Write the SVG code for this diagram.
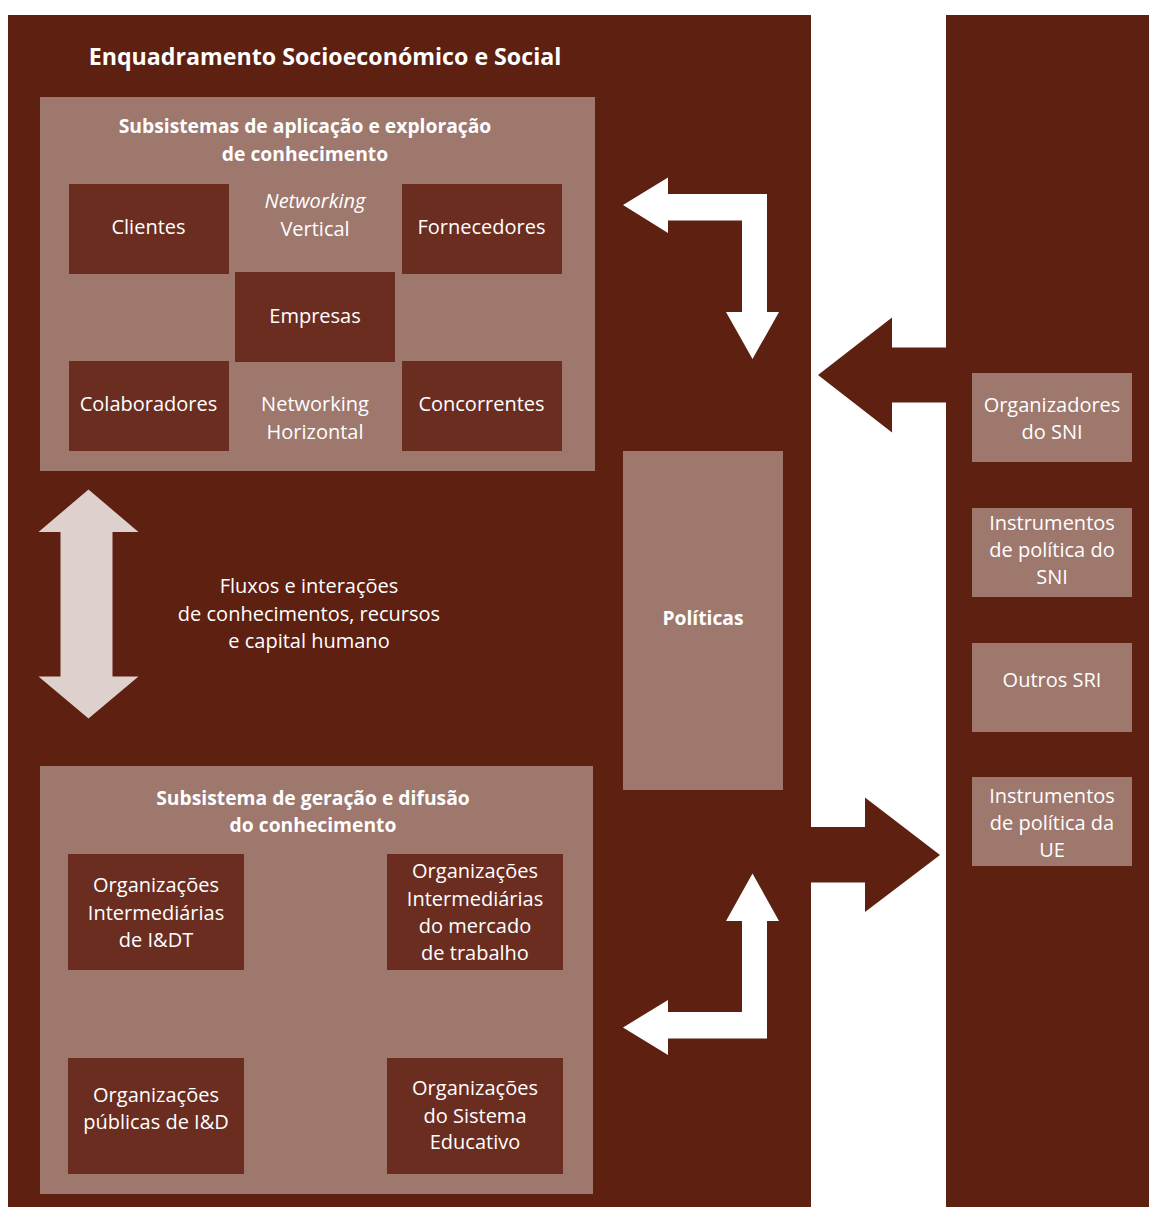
<svg xmlns="http://www.w3.org/2000/svg" width="1149" height="1207" viewBox="0 0 1149 1207">
<style>
.bg{fill:#5E2011}
.pale{fill:#9E776D}
.box{fill:#6B2D20}
.t{font-family:"Open Sans","Noto Sans",sans-serif;font-size:20px;fill:#FFFFFF;text-anchor:middle}
.b{font-weight:bold;font-size:19.3px}
.i{font-style:italic}
.wa{fill:#FFFFFF}
.da{fill:#5E2011}
.la{fill:#DDD0CD}
</style>
<rect width="1149" height="1207" fill="#FFFFFF"/>
<g id="panel-main">
<rect class="bg" x="8" y="15" width="803" height="1192"/>
<text class="t b" x="325" y="65" style="font-size:23.2px">Enquadramento Socioeconómico e Social</text>
</g>
<g id="panel-right">
<rect class="bg" x="946" y="15" width="203" height="1192"/>
</g>
<g id="subsistema-aplicacao">
<rect class="pale" x="40" y="97" width="555" height="374"/>
<text class="t b" x="305" y="133">Subsistemas de aplicação e exploração</text>
<text class="t b" x="305" y="161">de conhecimento</text>
</g>
<g id="clientes"><rect class="box" x="69" y="184" width="160" height="90"/><text class="t" x="148.5" y="234">Clientes</text></g>
<g id="fornecedores"><rect class="box" x="402" y="184" width="160" height="90"/><text class="t" x="481.5" y="234">Fornecedores</text></g>
<g id="networking-vertical"><text class="t i" x="315" y="208">Networking</text><text class="t" x="315" y="236">Vertical</text></g>
<g id="empresas"><rect class="box" x="235" y="272" width="160" height="90"/><text class="t" x="315" y="323">Empresas</text></g>
<g id="colaboradores"><rect class="box" x="69" y="361" width="160" height="90"/><text class="t" x="148.5" y="411">Colaboradores</text></g>
<g id="networking-horizontal"><text class="t" x="315" y="411">Networking</text><text class="t" x="315" y="439">Horizontal</text></g>
<g id="concorrentes"><rect class="box" x="402" y="361" width="160" height="90"/><text class="t" x="481.5" y="411">Concorrentes</text></g>
<g id="fluxos">
<text class="t" x="309" y="593">Fluxos e interações</text>
<text class="t" x="309" y="621">de conhecimentos, recursos</text>
<text class="t" x="309" y="648">e capital humano</text>
</g>
<g id="politicas"><rect class="pale" x="623" y="451" width="160" height="339"/><text class="t b" x="703" y="625">Políticas</text></g>
<g id="subsistema-geracao">
<rect class="pale" x="40" y="766" width="553" height="428"/>
<text class="t b" x="313" y="805">Subsistema de geração e difusão</text>
<text class="t b" x="313" y="832">do conhecimento</text>
</g>
<g id="org-intermediarias-idt"><rect class="box" x="68" y="854" width="176" height="116"/><text class="t" x="156" y="892">Organizações</text><text class="t" x="156" y="920">Intermediárias</text><text class="t" x="156" y="947">de I&amp;DT</text></g>
<g id="org-intermediarias-trabalho"><rect class="box" x="387" y="854" width="176" height="116"/><text class="t" x="475" y="878">Organizações</text><text class="t" x="475" y="906">Intermediárias</text><text class="t" x="475" y="933">do mercado</text><text class="t" x="475" y="960">de trabalho</text></g>
<g id="org-publicas"><rect class="box" x="68" y="1058" width="176" height="116"/><text class="t" x="156" y="1102">Organizações</text><text class="t" x="156" y="1129">públicas de I&amp;D</text></g>
<g id="org-sistema-educativo"><rect class="box" x="387" y="1058" width="176" height="116"/><text class="t" x="475" y="1095">Organizações</text><text class="t" x="475" y="1123">do Sistema</text><text class="t" x="475" y="1149">Educativo</text></g>
<g id="organizadores-sni"><rect class="pale" x="972" y="373" width="160" height="89"/><text class="t" x="1052" y="412">Organizadores</text><text class="t" x="1052" y="439">do SNI</text></g>
<g id="instrumentos-sni"><rect class="pale" x="972" y="508" width="160" height="89"/><text class="t" x="1052" y="530">Instrumentos</text><text class="t" x="1052" y="557">de política do</text><text class="t" x="1052" y="584">SNI</text></g>
<g id="outros-sri"><rect class="pale" x="972" y="643" width="160" height="89"/><text class="t" x="1052" y="687">Outros SRI</text></g>
<g id="instrumentos-ue"><rect class="pale" x="972" y="777" width="160" height="89"/><text class="t" x="1052" y="803">Instrumentos</text><text class="t" x="1052" y="830">de política da</text><text class="t" x="1052" y="857">UE</text></g>
<g id="connectors">
<polygon class="wa" points="623,205 668,177.5 668,194 767,194 767,312 779,312 752.5,359 726,312 742,312 742,220.5 668,220.5 668,233"/>
<polygon class="wa" points="752.5,873.5 779,921 767,921 767,1038.5 668,1038.5 668,1055 623,1027.5 668,1000 668,1012 742,1012 742,921 726,921"/>
<polygon class="da" points="818,375 892,317.5 892,347.5 946,347.5 946,402.5 892,402.5 892,432.5"/>
<polygon class="da" points="811,827 865,827 865,797.5 940,855 865,912 865,882.5 811,882.5"/>
<polygon class="la" points="88.5,489.5 138.5,532 112.5,532 112.5,676.5 138.5,676.5 88.5,718.5 38.5,676.5 60.5,676.5 60.5,532 38.5,532"/>
</g>
</svg>
